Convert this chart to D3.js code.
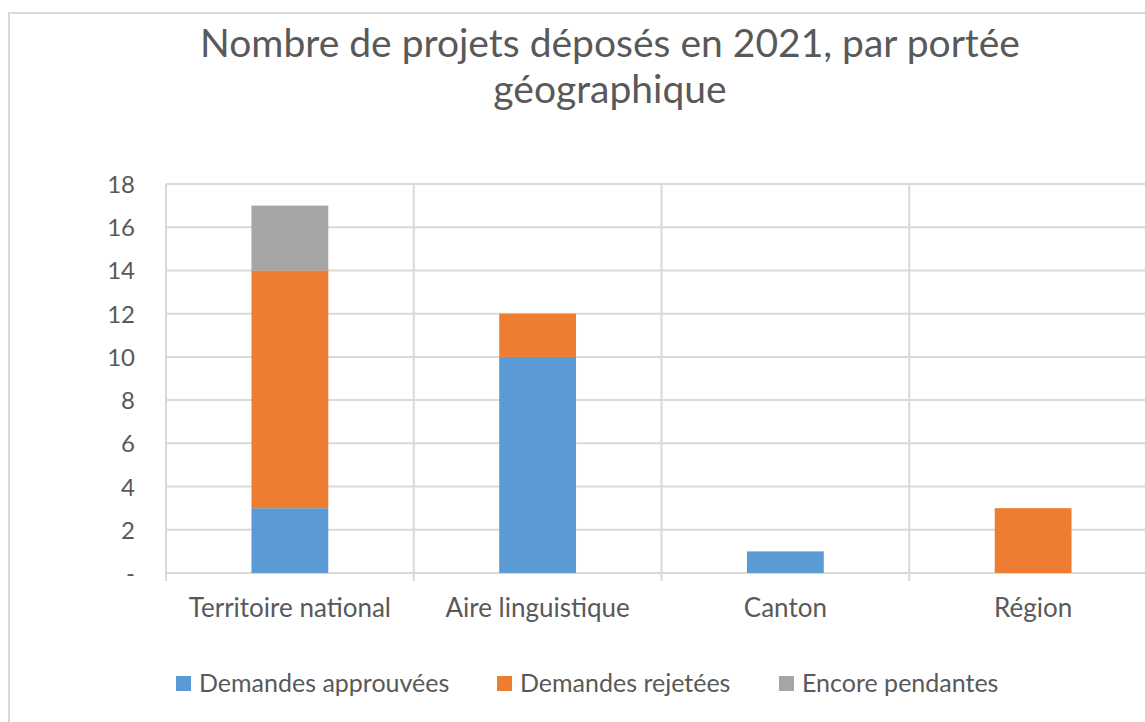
<html>
<head>
<meta charset="utf-8">
<style>
  body { margin: 0; background: #fff; }
  text { font-family: Lato, "Liberation Sans", sans-serif; fill: #595959; }
</style>
</head>
<body>
<div id="chart"></div>
<script src="https://cdnjs.cloudflare.com/ajax/libs/d3/7.8.5/d3.min.js"></script>
<script>
  // data
  var categories = ["Territoire national", "Aire linguistique", "Canton", "Région"];
  var seriesNames = ["Demandes approuvées", "Demandes rejetées", "Encore pendantes"];
  var approuvees = [3, 10, 1, 0];
  var rejetees = [11, 2, 0, 3];
  var pendantes = [3, 0, 0, 0];
  var yTicks = [0, 2, 4, 6, 8, 10, 12, 14, 16, 18];
  var colors = ["#5B9BD5", "#ED7D31", "#A5A5A5"];

  var W = 1145, H = 722;
  var svg = d3.select("#chart").append("svg").attr("width", W).attr("height", H);

  // outer chart frame (runs off the right and bottom of the window)
  svg.append("rect")
    .attr("x", 9).attr("y", 13)
    .attr("width", 1200).attr("height", 800)
    .style("fill", "#fff")
    .style("stroke", "#d9d9d9")
    .style("stroke-width", 2);

  // title on two lines
  svg.selectAll(".title")
    .data(["Nombre de projets déposés en 2021, par portée", "géographique"])
    .enter()
    .append("text")
      .attr("x", 610)
      .attr("y", function (d, i) { return 57 + i * 46; })
      .attr("text-anchor", "middle")
      .style("font-size", "39px")
      .text(function (d) { return d; });

  var plotLeft = 166, plotTop = 184, plotBottom = 573, plotW = 991;

  var x = d3.scaleBand().domain(categories).range([plotLeft, plotLeft + plotW]).paddingInner(0).paddingOuter(0);
  var y = d3.scaleLinear().domain([0, 18]).range([plotBottom, plotTop]);

  // horizontal gridlines
  svg.append("g").selectAll("line")
    .data(yTicks)
    .enter()
    .append("line")
      .attr("x1", plotLeft).attr("x2", plotLeft + plotW)
      .attr("y1", function (d) { return y(d); })
      .attr("y2", function (d) { return y(d); })
      .style("stroke", "#d9d9d9")
      .style("stroke-width", 2);

  // vertical separators between categories, with tick below the axis
  var seps = [plotLeft].concat(categories.map(function (c) { return x(c) + x.bandwidth(); }));
  svg.append("g").selectAll("line")
    .data(seps)
    .enter()
    .append("line")
      .attr("x1", function (d) { return d; })
      .attr("x2", function (d) { return d; })
      .attr("y1", plotTop)
      .attr("y2", plotBottom + 8)
      .style("stroke", "#d9d9d9")
      .style("stroke-width", 2);

  // stacked bars
  var rows = categories.map(function (c, i) {
    return { cat: c, a: approuvees[i], r: rejetees[i], p: pendantes[i] };
  });
  var stack = d3.stack().keys(["a", "r", "p"])(rows);
  var barW = x.bandwidth() * 0.31;

  svg.append("g").selectAll("g")
    .data(stack)
    .enter()
    .append("g")
      .style("fill", function (d, i) { return colors[i]; })
    .selectAll("rect")
    .data(function (d) { return d.filter(function (s) { return s[1] > s[0]; }); })
    .enter()
    .append("rect")
      .attr("x", function (d) { return x(d.data.cat) + x.bandwidth() / 2 - barW / 2; })
      .attr("y", function (d) { return y(d[1]); })
      .attr("width", barW)
      .attr("height", function (d) { return y(d[0]) - y(d[1]); });

  // y axis labels, zero shown as "-"
  svg.append("g").selectAll("text")
    .data(yTicks)
    .enter()
    .append("text")
      .attr("x", 135)
      .attr("y", function (d) { return y(d) + 9; })
      .attr("text-anchor", "end")
      .style("font-size", "24px")
      .text(function (d) { return d === 0 ? "-" : d; });

  // category labels
  svg.append("g").selectAll("text")
    .data(categories)
    .enter()
    .append("text")
      .attr("x", function (d) { return x(d) + x.bandwidth() / 2; })
      .attr("y", 617)
      .attr("text-anchor", "middle")
      .style("font-size", "26px")
      .text(function (d) { return d; });

  // legend
  var legX = [176, 497, 779];
  var legend = svg.append("g").selectAll("g")
    .data(seriesNames)
    .enter()
    .append("g")
      .attr("transform", function (d, i) { return "translate(" + legX[i] + ",676)"; });
  legend.append("rect")
    .attr("width", 15).attr("height", 15)
    .style("fill", function (d, i) { return colors[i]; });
  legend.append("text")
    .attr("x", 23)
    .attr("y", 16)
    .style("font-size", "25px")
    .text(function (d) { return d; });
</script>
</body>
</html>
